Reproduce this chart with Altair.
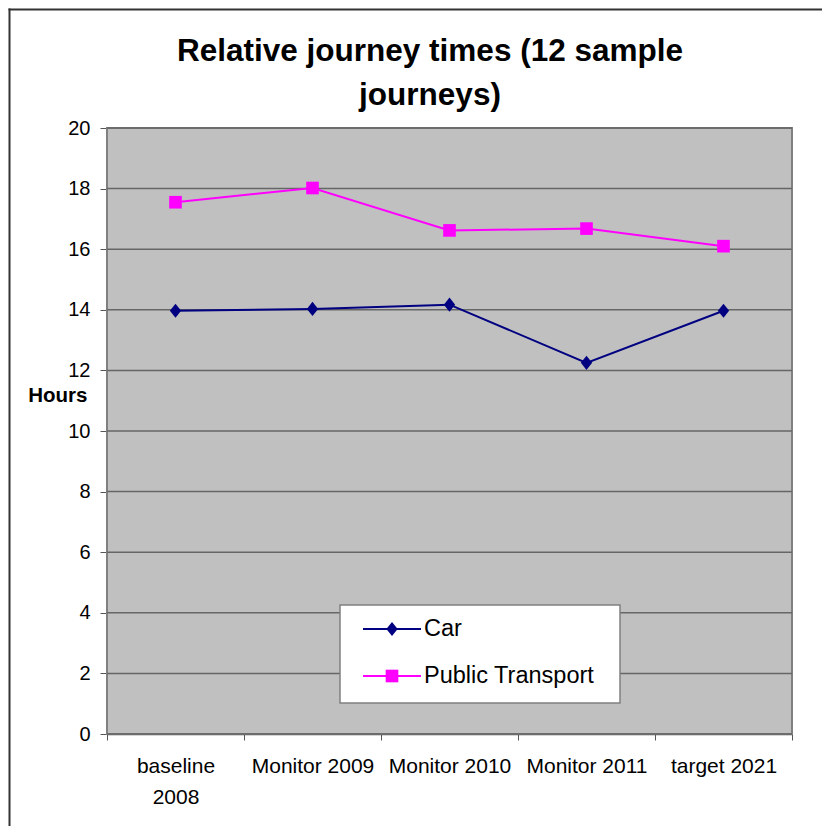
import altair as alt
import pandas as pd

categories = ["baseline 2008", "Monitor 2009", "Monitor 2010", "Monitor 2011", "target 2021"]
car = [13.97, 14.03, 14.17, 12.25, 13.97]
public_transport = [17.55, 18.02, 16.62, 16.68, 16.10]
series_names = ["Car", "Public Transport"]
series_colors = ["#000080", "#FF00FF"]
y_ticks = list(range(0, 21, 2))
title_lines = ["Relative journey times (12 sample", "journeys)"]

rows = []
for c, v in zip(categories, car):
    rows.append({"cat": c, "series": "Car", "hours": v})
for c, v in zip(categories, public_transport):
    rows.append({"cat": c, "series": "Public Transport", "hours": v})
df = pd.DataFrame(rows)
grid_df = pd.DataFrame({"hours": y_ticks})

FONT = "Liberation Sans"
W, H = 685, 606
DIAMOND = "M0,-1L0.8,0L0,1L-0.8,0Z"

x_enc = alt.X(
    "cat:N",
    sort=categories,
    bandPosition=0.5,
    scale=alt.Scale(type="band", paddingInner=0, paddingOuter=0),
    axis=alt.Axis(
        title=None,
        tickBand="extent",
        grid=False,
        labelAngle=0,
        labelFontSize=21,
        labelFont=FONT,
        labelColor="black",
        labelPadding=15,
        labelLineHeight=31,
        labelExpr="datum.value == 'baseline 2008' ? ['baseline', '2008'] : datum.value",
        tickSize=6,
        tickColor="#555555",
        domainColor="#555555",
        domainWidth=1.5,
    ),
)
y_scale = alt.Scale(domain=[0, 20], nice=False, zero=True)
y_enc = alt.Y(
    "hours:Q",
    scale=y_scale,
    axis=alt.Axis(
        values=y_ticks,
        title="Hours",
        titleAngle=0,
        titleX=-20,
        titleY=267,
        titleAlign="right",
        titleBaseline="middle",
        titleFontSize=20.5,
        titleFont=FONT,
        titleFontWeight="bold",
        titleColor="black",
        labelFontSize=20,
        labelFont=FONT,
        labelColor="black",
        labelPadding=10,
        tickSize=7,
        tickColor="#555555",
        domainColor="#555555",
        domainWidth=1.5,
        grid=False,
    ),
)

one = pd.DataFrame({"a": [0]})

plot_bg = alt.Chart(one).mark_rect(
    fill="#C0C0C0", stroke="#808080", strokeWidth=2
).encode(x=alt.value(0), x2=alt.value(W), y=alt.value(0), y2=alt.value(H))

grid = alt.Chart(grid_df).mark_rule(color="#666666", strokeWidth=1.5).encode(
    y=alt.Y("hours:Q", scale=y_scale), x=alt.value(0), x2=alt.value(W)
)

lines = alt.Chart(df).mark_line(strokeWidth=2).encode(
    x=x_enc,
    y=y_enc,
    color=alt.Color("series:N", scale=alt.Scale(domain=series_names, range=series_colors), legend=None),
)

car_points = alt.Chart(df).transform_filter("datum.series == 'Car'").mark_point(
    filled=True, opacity=1, shape=DIAMOND, size=200, color=series_colors[0]
).encode(x=x_enc, y=y_enc)

pt_points = alt.Chart(df).transform_filter("datum.series == 'Public Transport'").mark_point(
    filled=True, opacity=1, shape="square", size=160, color=series_colors[1]
).encode(x=x_enc, y=y_enc)

# legend box (drawn as a small group of marks)
LX0, LX1, LY0, LY1 = 233, 513, 477, 575
ROWS = [501, 548]
legend_box = alt.Chart(one).mark_rect(fill="white", stroke="#808080", strokeWidth=1.5).encode(
    x=alt.value(LX0), x2=alt.value(LX1), y=alt.value(LY0), y2=alt.value(LY1)
)
legend_layers = [legend_box]
for i, (name, col) in enumerate(zip(series_names, series_colors)):
    ry = ROWS[i]
    legend_layers.append(
        alt.Chart(one).mark_rule(color=col, strokeWidth=2).encode(
            x=alt.value(256), x2=alt.value(314), y=alt.value(ry)
        )
    )
    legend_layers.append(
        alt.Chart(one).mark_point(
            filled=True, opacity=1, color=col,
            shape=DIAMOND if i == 0 else "square", size=200 if i == 0 else 160,
        ).encode(x=alt.value(285), y=alt.value(ry))
    )
    legend_layers.append(
        alt.Chart(one).mark_text(
            font=FONT, fontSize=23.5, color="black", align="left", baseline="middle"
        ).encode(x=alt.value(317), y=alt.value(ry), text=alt.value(name))
    )

frame_left = alt.Chart(one).mark_rule(color="#333333", strokeWidth=2).encode(
    x=alt.value(-97.5), y=alt.value(-119.5), y2=alt.value(900)
)
frame_top = alt.Chart(one).mark_rule(color="#333333", strokeWidth=2).encode(
    x=alt.value(-98.5), x2=alt.value(900), y=alt.value(-118.5)
)

title = alt.Chart(one).mark_text(
    font=FONT, fontSize=31.5, fontWeight="bold", color="black",
    align="center", baseline="alphabetic", lineHeight=44,
).encode(
    x=alt.value(323), y=alt.value(-67), text=alt.value(title_lines)
)

chart = alt.layer(
    plot_bg, grid, frame_left, frame_top, title, lines, car_points, pt_points, *legend_layers
).properties(
    width=W,
    height=H,
    autosize=alt.AutoSizeParams(type="none"),
    padding={"left": 99, "top": 120, "right": 30, "bottom": 92},
    background="white",
).configure_view(
    stroke="#808080", strokeWidth=2
)

chart.save("out.html", embed_options={"renderer": "svg", "actions": False})
